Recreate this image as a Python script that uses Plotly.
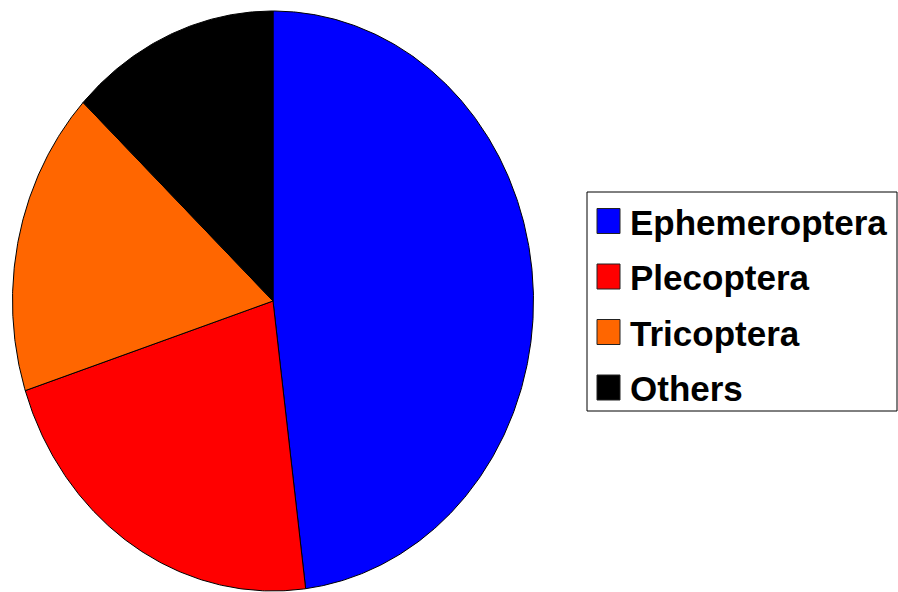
import numpy as np
import plotly.graph_objects as go

# Composition of the insect orders
categories = ["Ephemeroptera", "Plecoptera", "Tricoptera", "Others"]
values = [48, 22, 17, 13]
colors = ["#0000FF", "#FF0000", "#FF6600", "#000000"]

W, H = 898, 592
PLOT_W = 546                      # pixel width of the pie area
CX, CY, RX, RY = 273, 301, 260.5, 290   # ellipse centre and radii in pixels

fig = go.Figure()

# Slices run clockwise from 12 o'clock, drawn on unit axes stretched into an ellipse
total = float(sum(values))
start = 0.0
for name, val, col in zip(categories, values, colors):
    end = start + val / total * 2 * np.pi
    t = np.linspace(start, end, max(int(val * 8), 16))
    xs = np.concatenate([[0.0], np.sin(t), [0.0]])
    ys = np.concatenate([[0.0], np.cos(t), [0.0]])
    fig.add_trace(go.Scatter(
        x=xs, y=ys, mode="lines", fill="toself", fillcolor=col,
        line=dict(color="#000000", width=1), name=name,
        showlegend=False, hoverinfo="name",
    ))
    start = end

# Legend box with colour swatches and labels
def px_x(p):
    return p / PLOT_W

def px_y(p):
    return 1 - p / H

shapes = [dict(type="rect", xref="paper", yref="paper",
               x0=px_x(587), x1=px_x(897), y0=px_y(411), y1=px_y(192),
               line=dict(color="#000000", width=1), fillcolor="white", layer="below")]
annotations = []
row_top, row_gap = 221, 55.5
for i, (name, col) in enumerate(zip(categories, colors)):
    yc = row_top + i * row_gap
    shapes.append(dict(type="rect", xref="paper", yref="paper",
                       x0=px_x(597), x1=px_x(620), y0=px_y(yc + 12.5), y1=px_y(yc - 12.5),
                       fillcolor=col, line=dict(color="#222222", width=1)))
    annotations.append(dict(xref="paper", yref="paper", x=px_x(628), y=px_y(yc + 1),
                            xanchor="left", yanchor="middle", showarrow=False,
                            text=name,
                            font=dict(family="Liberation Sans, Arial, sans-serif",
                                      size=35, color="#000000", weight="bold")))

fig.update_layout(
    width=W, height=H,
    margin=dict(l=0, r=W - PLOT_W, t=0, b=0),
    paper_bgcolor="white", plot_bgcolor="white",
    xaxis=dict(range=[(0 - CX) / RX, (PLOT_W - CX) / RX], visible=False, fixedrange=True),
    yaxis=dict(range=[-(H - CY) / RY, CY / RY], visible=False, fixedrange=True),
    shapes=shapes, annotations=annotations,
    showlegend=False,
)

fig.write_html("out.html")
